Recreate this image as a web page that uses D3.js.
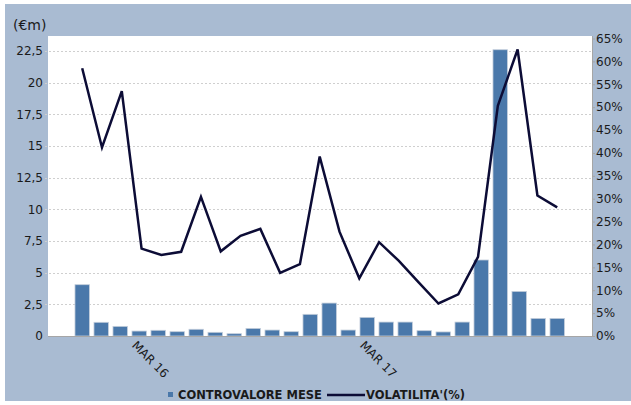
<!DOCTYPE html>
<html>
  <head>
    <script src="https://d3js.org/d3.v7.min.js"></script>
    <style>
      body,
      html {
        margin: 0;
        padding: 0;
        background: #fff;
        font-family: "DejaVu Sans", sans-serif;
        overflow: hidden;
      }
    </style>
  </head>
  <body>
    <svg id="chart" width="631" height="405"></svg>
    <script>
      // months shown as bars (Dec 15 .. Jan 18)
      var months = [
        "DEC 15", "JAN 16", "FEB 16", "MAR 16", "APR 16", "MAY 16", "JUN 16",
        "JUL 16", "AUG 16", "SEP 16", "OCT 16", "NOV 16", "DEC 16", "JAN 17",
        "FEB 17", "MAR 17", "APR 17", "MAY 17", "JUN 17", "JUL 17", "AUG 17",
        "SEP 17", "OCT 17", "NOV 17", "DEC 17", "JAN 18",
      ];
      var controvalore = [
        4.05, 1.08, 0.76, 0.39, 0.45, 0.34, 0.53, 0.29, 0.18, 0.6, 0.47, 0.34,
        1.71, 2.6, 0.47, 1.47, 1.1, 1.1, 0.42, 0.32, 1.1, 6.0, 22.6, 3.52,
        1.39, 1.39,
      ];
      // volatility series has one point less, spread over the same width
      var volatilita = [
        58.5, 41.2, 53.5, 19.1, 17.7, 18.4, 30.4, 18.5, 21.9, 23.4, 13.8,
        15.7, 39.2, 22.8, 12.6, 20.5, 16.4, 11.7, 7.1, 9.1, 17.3, 50.3, 62.6,
        30.7, 28.1,
      ];
      var leftTicks = [0, 2.5, 5, 7.5, 10, 12.5, 15, 17.5, 20, 22.5];
      var rightTicks = d3.range(0, 66, 5);
      var shownLabels = ["MAR 16", "MAR 17"];

      var svg = d3.select("#chart");
      var plot = { left: 48, right: 592, top: 36, bottom: 336 };
      var barColor = "#4a78aa";
      var lineColor = "#0c0c36";
      var textColor = "#1a1a1a";

      // background
      svg
        .append("rect")
        .attr("x", 5)
        .attr("y", 4)
        .attr("width", 626)
        .attr("height", 397)
        .attr("fill", "#a9bbd2");
      svg
        .append("rect")
        .attr("x", plot.left)
        .attr("y", plot.top)
        .attr("width", plot.right - plot.left)
        .attr("height", plot.bottom - plot.top)
        .attr("fill", "#fff");

      var x = d3
        .scaleBand()
        .domain(months)
        .range([72.7, 566.7])
        .paddingInner(0.24)
        .paddingOuter(0.12);
      var xLine = d3
        .scalePoint()
        .domain(d3.range(volatilita.length))
        .range([x(months[0]) + x.bandwidth() / 2, x(months[months.length - 1]) + x.bandwidth() / 2]);
      var yLeft = d3.scaleLinear().domain([0, 22.5]).range([plot.bottom, 51]);
      var yRight = d3.scaleLinear().domain([0, 65]).range([plot.bottom, 38.5]);

      // gridlines
      svg
        .append("g")
        .selectAll("line")
        .data(leftTicks.slice(1))
        .enter()
        .append("line")
        .attr("x1", plot.left - 3)
        .attr("x2", plot.right)
        .attr("y1", (d) => Math.round(yLeft(d)) + 0.5)
        .attr("y2", (d) => Math.round(yLeft(d)) + 0.5)
        .attr("stroke", "#cfcfcf")
        .attr("stroke-dasharray", "2,2");

      // left axis
      var leftAxis = d3
        .axisLeft(yLeft)
        .tickValues(leftTicks)
        .tickSize(0)
        .tickPadding(5)
        .tickFormat((d) => String(d).replace(".", ","));
      var gl = svg
        .append("g")
        .attr("transform", "translate(" + plot.left + ",0)")
        .call(leftAxis);
      gl.select(".domain").remove();
      gl.selectAll("text")
        .attr("font-size", 12)
        .attr("font-family", "DejaVu Sans")
        .attr("fill", textColor);

      // right axis
      var rightAxis = d3
        .axisRight(yRight)
        .tickValues(rightTicks)
        .tickSize(3)
        .tickPadding(1)
        .tickFormat((d) => d + "%");
      var gr = svg
        .append("g")
        .attr("transform", "translate(" + plot.right + ",0)")
        .call(rightAxis);
      gr.select(".domain").attr("stroke", "#a6a6a6").attr("d", "M0.5," + plot.top + "V" + plot.bottom);
      gr.selectAll(".tick line").attr("stroke", "#a6a6a6");
      gr.selectAll("text")
        .attr("font-size", 12)
        .attr("font-family", "DejaVu Sans")
        .attr("fill", textColor);

      // unit label
      svg
        .append("text")
        .attr("x", 13)
        .attr("y", 30)
        .attr("font-size", 14)
        .attr("fill", textColor)
        .text("(€m)");

      // bars
      svg
        .append("g")
        .selectAll("rect")
        .data(controvalore)
        .enter()
        .append("rect")
        .attr("x", (d, i) => x(months[i]))
        .attr("y", (d) => yLeft(d))
        .attr("width", x.bandwidth())
        .attr("height", (d) => plot.bottom - yLeft(d))
        .attr("fill", barColor)
        .attr("stroke", "#c3cedb")
        .attr("stroke-width", 0.8);

      // bottom axis line
      svg
        .append("line")
        .attr("x1", plot.left)
        .attr("x2", plot.right)
        .attr("y1", plot.bottom + 0.5)
        .attr("y2", plot.bottom + 0.5)
        .attr("stroke", "#a6a6a6");

      // x labels
      svg
        .append("g")
        .selectAll("text")
        .data(shownLabels)
        .enter()
        .append("text")
        .attr("transform", function (d) {
          var cx = x(d) + x.bandwidth() / 2;
          return "translate(" + (cx - 2) + "," + (plot.bottom + 4) + ") rotate(45)";
        })
        .attr("dy", "0.71em")
        .attr("font-size", 12)
        .attr("fill", textColor)
        .text((d) => d);

      // line
      var line = d3
        .line()
        .x((d, i) => xLine(i))
        .y((d) => yRight(d));
      svg
        .append("path")
        .datum(volatilita)
        .attr("d", line)
        .attr("fill", "none")
        .attr("stroke", lineColor)
        .attr("stroke-width", 2.5)
        .attr("stroke-linejoin", "miter");

      // legend
      var legend = svg.append("g").attr("font-size", 11.5).attr("font-weight", "bold").attr("fill", textColor);
      legend
        .append("rect")
        .attr("x", 168)
        .attr("y", 392)
        .attr("width", 5)
        .attr("height", 5)
        .attr("fill", barColor);
      legend
        .append("text")
        .attr("x", 178)
        .attr("y", 395)
        .attr("dominant-baseline", "middle")
        .text("CONTROVALORE MESE");
      legend
        .append("line")
        .attr("x1", 327)
        .attr("x2", 365)
        .attr("y1", 395)
        .attr("y2", 395)
        .attr("stroke", lineColor)
        .attr("stroke-width", 2.5);
      legend
        .append("text")
        .attr("x", 366)
        .attr("y", 395)
        .attr("dominant-baseline", "middle")
        .text("VOLATILITA'(%)");
    </script>
  </body>
</html>
